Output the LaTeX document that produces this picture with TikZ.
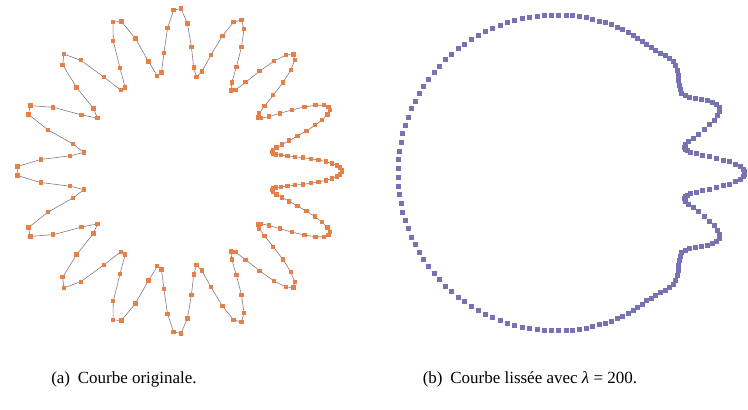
\documentclass[tikz,border=0pt]{standalone}
\usepackage{fontspec}
\setmainfont{Liberation Serif}
\definecolor{origmark}{RGB}{230,128,70}
\definecolor{origline}{RGB}{140,120,125}
\definecolor{smoothmark}{RGB}{118,114,180}
\begin{document}
\begin{tikzpicture}[x=1pt,y=1pt,
  declare function={
    % non-uniform sampling of the angle: dense around 0
    warp(\t)=\t-34.3775*sin(\t);
    rorig(\a)=130+34*cos(16*\a);
    envl(\a)=31*exp(-min(((min(\a,360-\a))/30)*((min(\a,360-\a))/30),20));
    rsmooth(\a)=158+envl(\a)*cos(16*\a);
  },
  caption/.style={anchor=base, font=\fontsize{17}{20}\selectfont}]
\useasboundingbox (0,0) rectangle (748,410);

% (a) original star-shaped curve: polyline through the samples
\draw[origline, line width=0.6pt] plot[domain=1:359, samples=180, variable=\t]
  ({178+rorig(warp(\t))*cos(warp(\t))},{239+rorig(warp(\t))*sin(warp(\t))}) -- cycle;

% sample points of both curves
\foreach \t in {1,3,...,359}{
  \pgfmathsetmacro\th{warp(\t)}
  \pgfmathsetmacro\ro{rorig(\th)}
  \pgfmathsetmacro\rs{rsmooth(\th)}
  \fill[origmark] ({178+\ro*cos(\th)},{239+\ro*sin(\th)}) ++(-2.2,-2.2) rectangle ++(4.4,4.4);
  \fill[smoothmark] ({556+\rs*cos(\th)},{237+\rs*sin(\th)}) ++(-2.5,-2.5) rectangle ++(5,5);
}

\node[caption] (capa) at (124,26) {(a)\hspace{0.45em}Courbe originale.};
\node[caption] (capb) at (530,26) {(b)\hspace{0.45em}Courbe lissée avec \textit{λ} = 200.};
\end{tikzpicture}
\end{document}
